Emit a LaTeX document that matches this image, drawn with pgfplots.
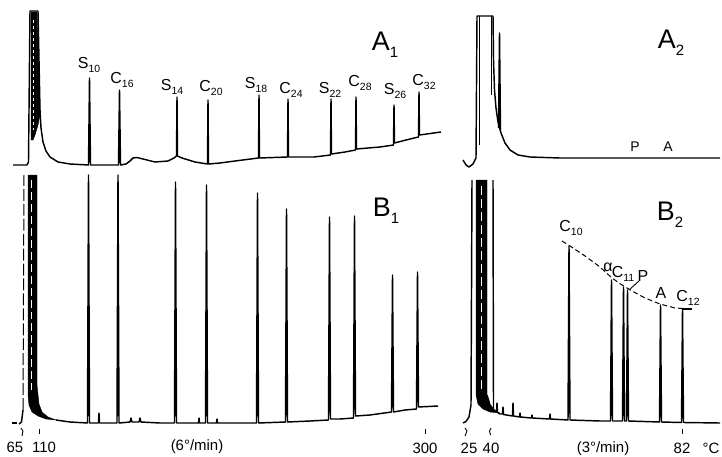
\documentclass[border=0pt]{standalone}
\usepackage{fontspec}
\setmainfont{Liberation Sans}
\usepackage{pgfplots}
\pgfplotsset{compat=1.18}
\newcommand\lab[2]{#1\raisebox{-0.3em}{\fontsize{10.5}{10.5}\selectfont #2}}
\newcommand\biglab[2]{{\fontsize{27}{27}\selectfont #1\raisebox{-0.25em}{\fontsize{15}{15}\selectfont #2}}}
\begin{document}
\begin{tikzpicture}
\begin{axis}[width=722bp,height=457bp,scale only axis,hide axis,
  xmin=0,xmax=722,ymin=0,ymax=457,y dir=reverse,clip=false,
  cycle list={{black,solid,mark=none}},
  every axis plot/.append style={line width=1.45pt,line join=round}]
\path[draw=none] (rel axis cs:0,0) rectangle (rel axis cs:1,1);
% ---------------- A1 ----------------
\addplot coordinates {(13,165) (27,165) (28.5,162) (29.5,60) (30,11) (38,11) (39,60) (40,110) (41,128) (43,142) (46,151) (50,157) (58,162) (70,164) (88.5,165) (89.5,78) (90.5,165) (118.5,165) (119.5,90) (120.5,165) (126,164) (130,161) (133,158) (137,157.5) (143,159) (155,162) (168,161) (174,158) (176.5,156) (177,97) (177.5,156) (182,158) (195,162) (207.5,164) (208,100) (208.5,164) (220,163) (235,161) (258.5,158) (259,95) (259.5,158) (287.5,157) (288,99) (288.5,157) (314,157) (330.5,155) (331,99) (331.5,154) (345,152) (355.5,150) (356,97) (356.5,149) (380,147) (393.5,145) (394,105) (394.5,143) (410,139) (418.5,137) (419,92) (419.5,135) (441,132)};
\addplot[fill=black,line width=0.4pt] coordinates {(31,12) (37,12) (39,70) (40,115) (38,125) (35,135) (33,140) (31,140)} --cycle;
\addplot[white,line width=0.6pt,dashed] coordinates {(33,20) (33,130)};
% ---------------- A2 ----------------
\addplot coordinates {(463,160) (466,165) (469,167) (473,164) (476,158) (477,16) (493,16) (493.5,60) (494.5,90) (496,108) (498,122) (501,133) (505,143) (510,150) (518,155) (530,157) (560,158) (720,158)};
\addplot[line width=0.9pt] coordinates {(479.5,16) (479.5,145)};
\addplot[line width=0.9pt] coordinates {(491,16) (491,95)};
\addplot coordinates {(498.5,128) (499.5,33) (500.5,131)};
% ---------------- B1 ----------------
\addplot coordinates {(12,423) (17,423)};
\addplot coordinates {(19,424) (21.5,422) (23,410)};
\addplot[line width=1pt,dash pattern=on 12pt off 3pt] coordinates {(23,410) (24,175)};
\addplot[fill=black,line width=0.4pt] coordinates {(28,175) (37,175) (37,385) (39,404) (42,412) (48,417) (56,420) (46,419) (38,416) (32,412) (29,405) (28,395)} --cycle;
\addplot[white,line width=0.5pt,dash pattern=on 8pt off 4pt] coordinates {(31,180) (31,390)};
\addplot coordinates {(56,420) (70,422) (87.5,423) (88.5,175) (89.5,423) (98.5,423) (99,413) (99.5,423) (117,423) (118,175) (119,423) (130,422) (131,418) (132,422) (139,422) (140,418) (141,422) (160,423) (174.5,423) (175.5,182) (176.5,423) (198.5,423) (199,418) (199.5,423) (205.5,423) (206.5,185) (207.5,423) (216.5,423) (217,419) (217.5,423) (256.5,423) (257.5,193) (258.5,423) (285.5,422) (286.5,209) (287.5,422) (310,421) (328.5,420) (329.5,217) (330.5,419) (340,419) (353.5,418) (354.5,216) (355.5,416) (370,415) (391.5,412) (392.5,275) (393.5,412) (405,410) (416.5,409) (417.5,272) (418.5,407) (438,406)};
% ---------------- B2 ----------------
\addplot coordinates {(463,423) (466,421.5) (469,417) (471,405) (472,180)};
\addplot[fill=black,line width=0.4pt] coordinates {(476,180) (487,180) (487,395) (490,405) (494,410) (500,413) (490,412) (483,409) (478,404) (476,395)} --cycle;
\addplot[white,line width=0.5pt,dash pattern=on 9pt off 4pt] coordinates {(481,186) (481,390)};
\addplot coordinates {(493,180) (493.5,408)};
\addplot coordinates {(487,395) (490,405) (494,410) (496.5,412) (497,403) (497.5,412.5) (500,414) (502.5,414) (503,407) (503.5,414.5) (512.5,416) (513,403) (513.5,416) (519.5,417) (520,413) (520.5,417) (531.5,418) (532,415) (532.5,418) (549.5,419) (550,414) (550.5,419) (568,420) (569,246) (570,420) (600,421) (610.5,421) (611.5,280) (612.5,421) (622.5,421) (623.5,287) (624.5,421) (626.5,421) (627.5,290) (628.5,421) (659.5,422) (660.5,305) (661.5,422) (681.5,422.5) (682.5,309) (683.5,422.5) (720,423)};
\addplot coordinates {(682.5,309) (692,309)};
\addplot[line width=1pt,dash pattern=on 5pt off 3pt] coordinates {(562,241) (570,246) (585,256) (600,267) (612,278) (622,285) (632,291) (645,298) (660,304) (675,308) (692,309)};
\addplot[line width=0.9pt] coordinates {(629,290) (639,281)};
% ---------------- ticks ----------------
\addplot[line width=0.9pt] coordinates {(21,428) (23,431) (22,436)};
\addplot[line width=0.9pt] coordinates {(39,429) (39,434)};
\addplot[line width=0.9pt] coordinates {(425,429) (425,434)};
\addplot[line width=0.9pt] coordinates {(465,428) (467,431) (465,436)};
\addplot[line width=0.9pt] coordinates {(491,428) (489.5,431) (490.5,435)};
\addplot[line width=0.9pt] coordinates {(682,429) (682,434)};
% ---------------- labels ----------------
\begin{scope}[every node/.style={font=\fontsize{16}{16}\selectfont,inner sep=0pt}]
\node at (axis cs:89,65) {\lab{S}{10}};
\node at (axis cs:122,80) {\lab{C}{16}};
\node at (axis cs:172,87) {\lab{S}{14}};
\node at (axis cs:211,88) {\lab{C}{20}};
\node at (axis cs:256,85) {\lab{S}{18}};
\node at (axis cs:291,90) {\lab{C}{24}};
\node at (axis cs:330,90) {\lab{S}{22}};
\node at (axis cs:360,83) {\lab{C}{28}};
\node at (axis cs:395,91) {\lab{S}{26}};
\node at (axis cs:424,82) {\lab{C}{32}};
\node at (axis cs:385,45) {\biglab{A}{1}};
\node at (axis cs:671,43) {\biglab{A}{2}};
\node at (axis cs:386,211) {\biglab{B}{1}};
\node at (axis cs:670,215) {\biglab{B}{2}};
\node[font=\fontsize{14}{14}\selectfont] at (axis cs:635,147) {P};
\node[font=\fontsize{14}{14}\selectfont] at (axis cs:668,147) {A};
\node at (axis cs:571,228) {\lab{C}{10}};
\node at (axis cs:608,267) {α};
\node at (axis cs:623,274) {\lab{C}{11}};
\node at (axis cs:643,276) {P};
\node at (axis cs:661,293) {A};
\node at (axis cs:688,298) {\lab{C}{12}};
\node[font=\fontsize{15}{15}\selectfont] at (axis cs:15,447) {65};
\node[font=\fontsize{15}{15}\selectfont] at (axis cs:44,447) {110};
\node[font=\fontsize{15}{15}\selectfont] at (axis cs:197,447) {(6°/min)};
\node[font=\fontsize{15}{15}\selectfont] at (axis cs:425,448) {300};
\node[font=\fontsize{15}{15}\selectfont] at (axis cs:469,448) {25};
\node[font=\fontsize{15}{15}\selectfont] at (axis cs:491,448) {40};
\node[font=\fontsize{15}{15}\selectfont] at (axis cs:603,449) {(3°/min)};
\node[font=\fontsize{15}{15}\selectfont] at (axis cs:682,448) {82};
\node[font=\fontsize{15}{15}\selectfont] at (axis cs:711,448) {°C};
\end{scope}
\end{axis}
\end{tikzpicture}
\end{document}
